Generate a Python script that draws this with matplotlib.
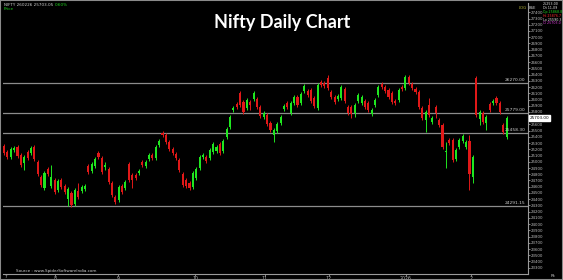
import numpy as np
import matplotlib
matplotlib.use("Agg")
import matplotlib.pyplot as plt
from matplotlib.patches import Rectangle

# daily OHLC (approx.)
opens = [25255, 25155, 25075, 25190, 25240, 25110, 24980, 25155, 25140, 25240,
         25000, 24755, 24580, 24885, 24610, 24710, 24550, 24710, 24610, 24405,
         24500, 24325, 24530, 24530, 24565, 24935, 24855, 24935, 25140, 25060,
         24915, 24885, 24660, 24435, 24385, 24610, 24580, 24965, 24790, 24790,
         24820, 25000, 24935, 25045, 25110, 25060, 25270, 25465, 25430, 25320,
         25205, 25125, 25030, 24805, 24710, 24660, 24595, 24740, 24900, 25075,
         25075, 25060, 25155, 25175, 25285, 25175, 25400, 25560, 25832, 25928,
         26105, 25960, 25865, 25960, 26010, 26010, 25880, 25720, 25750, 25625,
         25430, 25495, 25623, 25848, 25944, 25783, 25944, 26040, 25944, 26137,
         26137, 26153, 26024, 25864, 26281, 26265, 26345, 26121, 26040, 26008,
         26024, 26169, 25880, 25880, 25783, 25976, 25944, 25976, 25944, 25767,
         25912, 26072, 26249, 26201, 26153, 26105, 25976, 25992, 26201, 26185,
         26361, 26249, 26169, 26121, 25864, 25671, 25912, 25639, 25880, 25671,
         25591, 25157, 25350, 25350, 25045, 25238, 25334, 25238, 25334, 24756,
         26345, 25687, 25783, 25623, 25928, 25944, 26024, 25944, 25591, 25398]
closes = [25140, 25075, 25205, 25220, 25095, 24950, 25075, 25060, 25220, 25045,
          24805, 24630, 24820, 24805, 24755, 24515, 24690, 24595, 24515, 24565,
          24310, 24550, 24435, 24595, 24610, 24835, 24965, 25045, 25075, 24835,
          24950, 24675, 24470, 24355, 24595, 24515, 24675, 24710, 24710, 24740,
          24855, 24950, 25000, 25110, 25060, 25240, 25335, 25430, 25320, 25205,
          25140, 25060, 24870, 24630, 24610, 24580, 24820, 24885, 25075, 25110,
          25015, 25190, 25285, 25240, 25140, 25335, 25525, 25720, 25864, 25880,
          25912, 25800, 25990, 25910, 26105, 25880, 25735, 25785, 25605, 25510,
          25510, 25605, 25720, 25896, 25880, 25944, 26040, 25912, 26089, 26217,
          26072, 25976, 25896, 26233, 26233, 26217, 26185, 26040, 25960, 26056,
          26201, 25976, 25783, 25767, 25912, 26072, 26040, 25880, 25832, 25832,
          25992, 26201, 26201, 26137, 26040, 25960, 25944, 26153, 26169, 26361,
          26265, 26185, 26121, 25880, 25703, 25800, 25751, 25703, 25783, 25591,
          25238, 25173, 25302, 25030, 25190, 25350, 25414, 25318, 24804, 25077,
          25751, 25800, 25639, 25719, 25832, 25976, 25944, 25800, 25479, 25703]
highs = [25290, 25190, 25240, 25250, 25270, 25140, 25110, 25190, 25250, 25270,
         25030, 24790, 24850, 24915, 24950, 24740, 24720, 24740, 24645, 24595,
         24530, 24580, 24660, 24625, 24640, 24965, 24995, 25075, 25170, 25090,
         25000, 24915, 24690, 24465, 24625, 24645, 24705, 24995, 24820, 24820,
         24885, 25030, 25030, 25140, 25140, 25270, 25365, 25495, 25460, 25350,
         25235, 25155, 25060, 24835, 24740, 24690, 24850, 24915, 25105, 25140,
         25105, 25220, 25315, 25270, 25315, 25365, 25555, 25750, 25895, 25960,
         26135, 25990, 26020, 25990, 26135, 26040, 25910, 25815, 25780, 25655,
         25540, 25635, 25750, 25925, 25975, 25975, 26070, 26070, 26120, 26250,
         26165, 26185, 26055, 26265, 26310, 26295, 26395, 26150, 26070, 26085,
         26230, 26200, 25910, 25910, 25945, 26105, 26070, 26005, 25975, 25860,
         26020, 26230, 26280, 26230, 26185, 26135, 26005, 26185, 26230, 26390,
         26395, 26280, 26200, 26150, 25895, 25830, 26025, 25735, 25910, 25700,
         25620, 25320, 25380, 25380, 25220, 25380, 25445, 25350, 25430, 25110,
         26375, 25830, 25815, 25750, 25960, 26005, 26055, 25975, 25620, 25735]
lows = [25110, 25045, 25045, 25160, 25065, 24920, 24870, 25030, 25110, 25015,
        24775, 24600, 24550, 24775, 24580, 24485, 24520, 24565, 24485, 24290,
        24280, 24295, 24405, 24500, 24535, 24805, 24825, 24905, 25045, 24805,
        24870, 24645, 24440, 24325, 24355, 24485, 24550, 24680, 24580, 24710,
        24790, 24920, 24905, 25015, 25030, 25030, 25240, 25400, 25290, 25175,
        25110, 25030, 24840, 24600, 24580, 24550, 24565, 24710, 24870, 25045,
        24985, 25030, 25125, 25145, 25110, 25145, 25370, 25530, 25800, 25850,
        25880, 25770, 25835, 25830, 25980, 25850, 25705, 25690, 25575, 25480,
        25320, 25465, 25595, 25815, 25850, 25750, 25915, 25880, 25915, 26105,
        26040, 25945, 25865, 25830, 26200, 26185, 26155, 26010, 25930, 25975,
        25995, 25945, 25750, 25700, 25720, 25945, 25915, 25850, 25800, 25735,
        25880, 26040, 26170, 26105, 26010, 25930, 25915, 25960, 26140, 26155,
        26235, 26155, 26090, 25850, 25670, 25480, 25720, 25610, 25700, 25560,
        25205, 24900, 25270, 25000, 25015, 25210, 25305, 25210, 24547, 24660,
        25720, 25590, 25610, 25510, 25800, 25915, 25915, 25770, 25450, 25370]

levels = [26270.00, 25779.00, 25458.30, 24291.15]
month_pos = [15.1, 33.8, 56.6, 77.3, 96.3, 119.1, 138.4]
month_lbl = ["8", "9", "10", "11", "12", "2026", "2"]

W, H = 563, 280
fig = plt.figure(figsize=(W / 100, H / 100), dpi=100, facecolor="black")
ax = fig.add_axes([3 / W, 1 - 273.5 / H, (527.5 - 3) / W, (273.5 - 3) / H])
ax.set_facecolor("black")

x = np.arange(len(opens))
o = np.array(opens, float)
c = np.array(closes, float)
up = c >= o
cols = np.where(up, "#1fe61f", "#e01818")

ax.vlines(x, lows, highs, colors=cols, linewidth=0.7, zorder=3)
ax.bar(x, c - o, bottom=o, width=0.62, color=cols, linewidth=0, zorder=4)

# support / resistance lines
for lv in levels:
    ax.axhline(lv, color="#8c8c8c", lw=0.9, zorder=2)
    ax.text(154.5, lv + 18, f"{lv:.2f}", color="#cfcfcf", fontsize=3.2,
            ha="right", va="bottom", zorder=5)

ax.set_xlim(-0.3, 155.2)
ax.set_ylim(23207, 27549)

ax.yaxis.tick_right()
yt = np.arange(23300, 27401, 100)
ax.set_yticks(yt)
# the last-price box sits on top of the nearest scale label
ax.set_yticklabels(["" if abs(v - closes[-1]) < 60 else str(v) for v in yt])
ax.tick_params(axis="y", colors="#bdbdbd", labelsize=2.8, length=1.2, width=0.5, pad=1)
ax.set_xticks(month_pos)
ax.set_xticklabels(month_lbl)
ax.tick_params(axis="x", colors="#bdbdbd", labelsize=3.3, length=1.5, width=0.5, pad=0.5)

for s in ["left", "top"]:
    ax.spines[s].set_visible(False)
for s in ["right", "bottom"]:
    ax.spines[s].set_color("#9a9a9a")
    ax.spines[s].set_linewidth(0.8)

# last price box on the scale
ax.annotate(f"{closes[-1]:.2f}", xy=(1.0, closes[-1]), xycoords=("axes fraction", "data"),
            xytext=(1.5, 0), textcoords="offset points", fontsize=3.0, color="black",
            va="center", ha="left",
            bbox=dict(boxstyle="square,pad=0.15", fc="white", ec="white"), zorder=6)

# title
fig.text(0.502, 1 - 22.5 / H, "Nifty Daily Chart", color="white", fontsize=13,
         fontweight="bold", family="Lato", ha="center", va="center")

# header texts
fig.text(4 / W, 1 - 4.5 / H, "NIFTY 260226 25703.05", color="#cfcfcf",
         fontsize=3.0, va="center")
fig.text(55 / W, 1 - 4.5 / H, "0.60%", color="#22d822", fontsize=3.0, va="center")
fig.text(4 / W, 1 - 8.7 / H, "Price", color="#22d822", fontsize=3.0, va="center")
fig.text(519 / W, 1 - 8 / H, "LOG", color="#b5b53a", fontsize=2.8, va="center")
fig.text(529 / W, 1 - 8 / H, "BSE", color="#cfcfcf", fontsize=2.8, va="center")
info = [("25253.00", "#e6e6e6"), ("Dt 11-09", "#e6e6e6"), ("Op 25868.8", "#22d822"),
        ("Hi 25876.7", "#ff2d2d"), ("Lo 25590.3", "#e6e6e6"), ("Cl 25703.0", "#e040e0")]
for i, (t, col) in enumerate(info):
    fig.text(543 / W, 1 - (4 + i * 3.9) / H, t, color=col, fontsize=2.3, va="center")

fig.text(16 / W, 1 - 271 / H, "Source : www.SpiderSoftwareIndia.com", color="#d0d0d0",
         fontsize=3.0, va="center")
fig.text(5 / W, 1 - 276.5 / H, "7", color="#bdbdbd", fontsize=3.0, va="center")
fig.text(551 / W, 1 - 276 / H, "Pk", color="#bdbdbd", fontsize=3.0, va="center")

fig.patches.append(Rectangle((0, 0), 1, 1, transform=fig.transFigure, fill=False,
                             edgecolor="#8a8a8a", lw=1.5))

fig.savefig("out.png", dpi=100, facecolor="black")
